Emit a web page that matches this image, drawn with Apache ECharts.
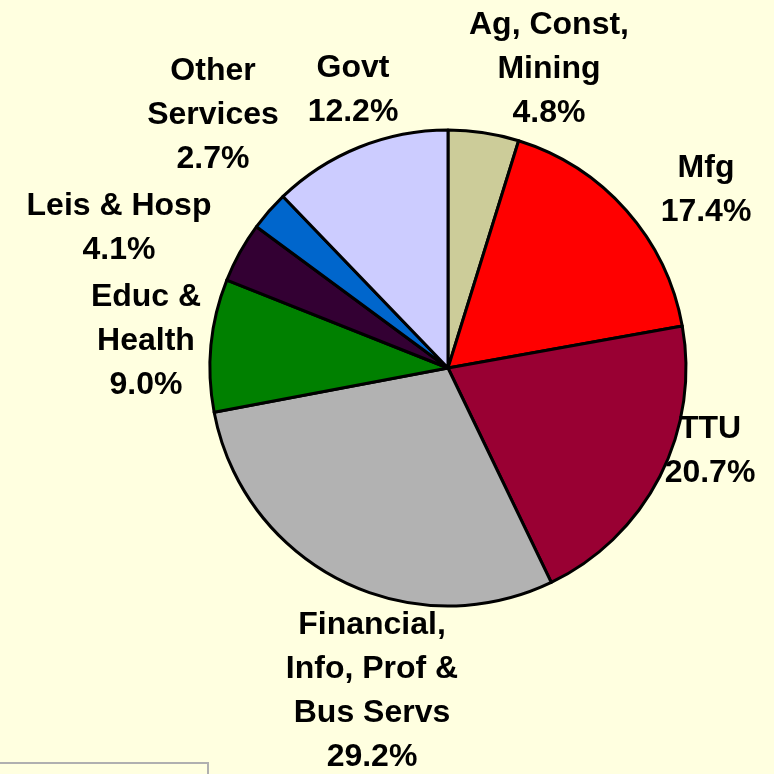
<!DOCTYPE html>
<html>
<head>
<meta charset="utf-8">
<script src="https://cdn.jsdelivr.net/npm/echarts@6/dist/echarts.min.js"></script>
<style>
  html, body { margin: 0; padding: 0; background: #FFFFE0; }
  #chart { width: 774px; height: 774px; }
</style>
</head>
<body>
<div id="chart"></div>
<script>
// sectors, clockwise from 12 o'clock
var names = ['Ag, Const,\nMining', 'Mfg', 'TTU', 'Financial,\nInfo, Prof &\nBus Servs', 'Educ &\nHealth', 'Leis & Hosp', 'Other\nServices', 'Govt']
var shares = [4.8, 17.4, 20.7, 29.2, 9.0, 4.1, 2.7, 12.2]
var colors = ['#CCCC99', '#FF0000', '#990033', '#B2B2B2', '#008000', '#330033', '#0066CC', '#CCCCFF']

// label block centres (layout only)
var labelPos = [[549, 69], [706, 190], [710, 451], [372, 691], [146, 341], [119, 228], [213, 115], [353, 90]]

var chart = echarts.init(document.getElementById('chart'))
chart.setOption({
  backgroundColor: '#FFFFE0',
  animation: false,
  series: [{
    type: 'pie',
    center: [448, 368],
    radius: 238,
    startAngle: 90,
    clockwise: true,
    data: names.map(function (n, i) {
      return { name: n, value: shares[i], itemStyle: { color: colors[i] } }
    }),
    itemStyle: { borderColor: '#000', borderWidth: 3 },
    label: {
      show: true,
      position: 'inside',
      overflow: 'none',
      formatter: function (p) { return p.name + '\n' + p.value.toFixed(1) + '%' },
      fontFamily: 'Liberation Sans',
      fontWeight: 'bold',
      fontSize: 32,
      lineHeight: 44,
      color: '#000',
      align: 'center'
    },
    labelLine: { show: false },
    labelLayout: function (p) {
      var pos = labelPos[p.dataIndex]
      return { x: pos[0], y: pos[1], align: 'center', verticalAlign: 'middle' }
    },
    emphasis: { disabled: true }
  }],
  graphic: [{
    type: 'rect',
    shape: { x: -2, y: 763, width: 210, height: 30 },
    style: { fill: 'none', stroke: '#B0B0B0', lineWidth: 2 }
  }]
})
</script>
</body>
</html>
